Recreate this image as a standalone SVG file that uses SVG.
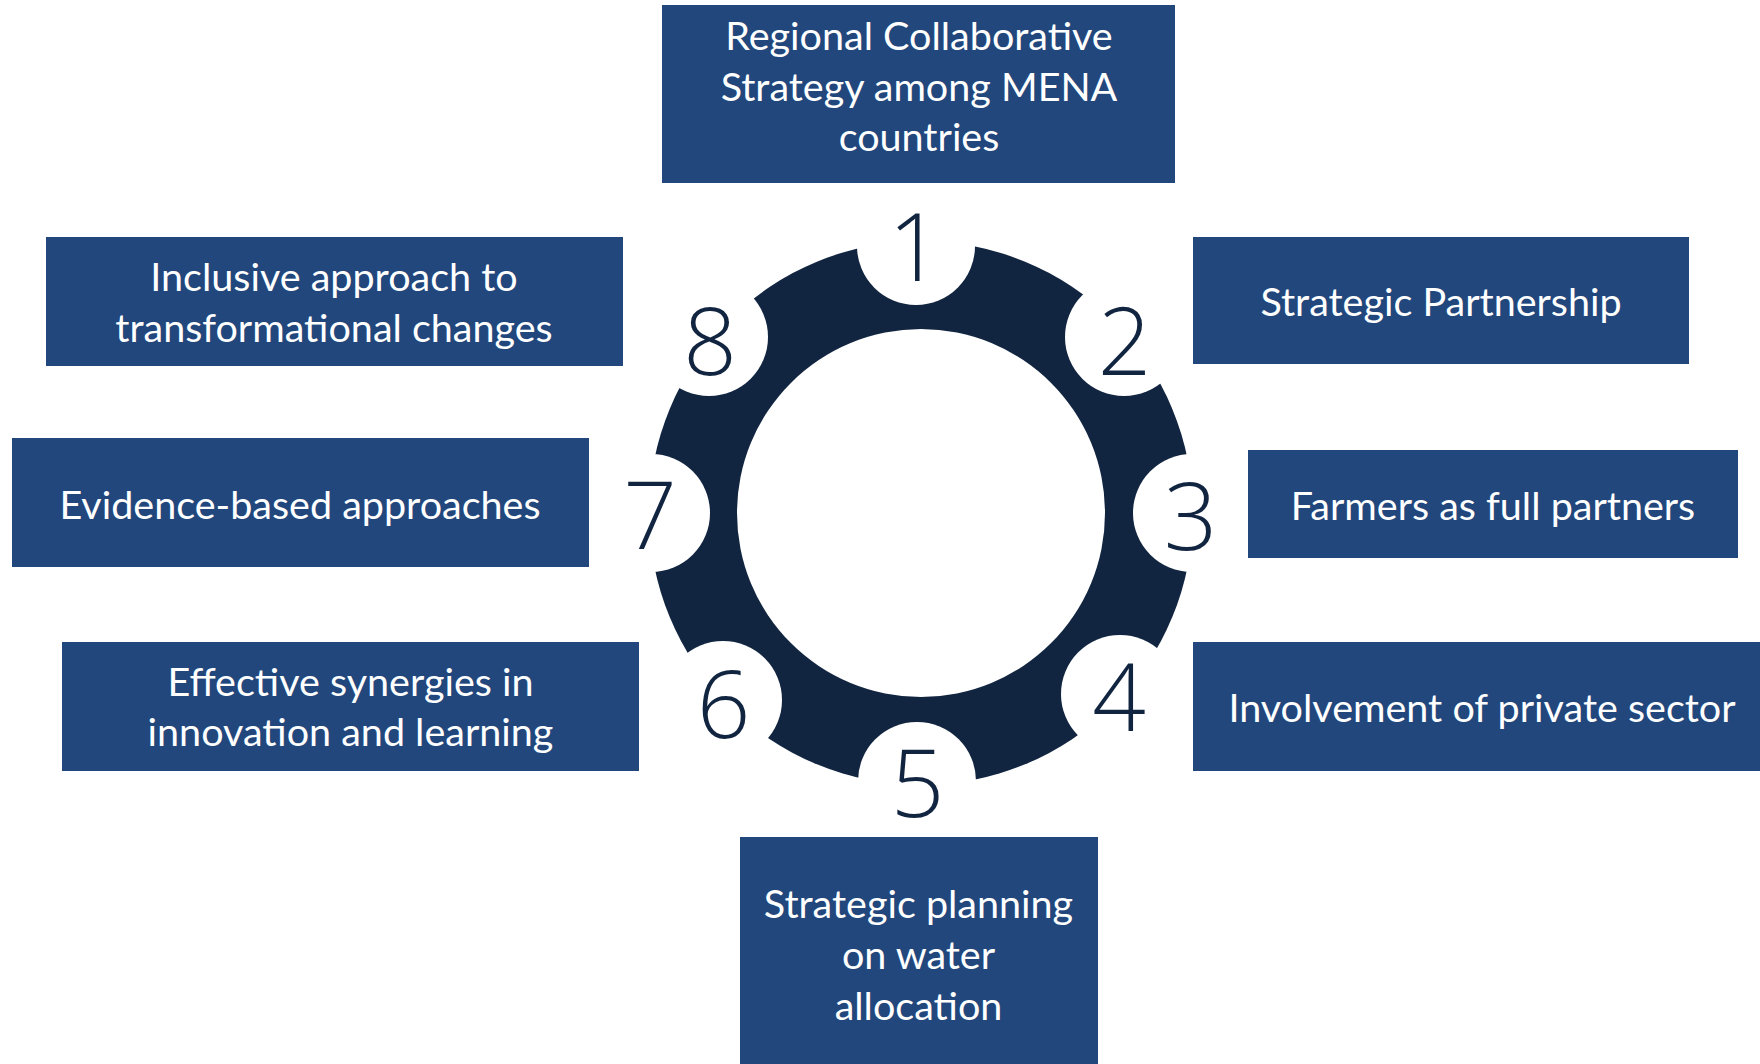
<svg xmlns="http://www.w3.org/2000/svg" width="1760" height="1064" viewBox="0 0 1760 1064">
  <style>
    .box { fill: #21477D; }
    .lbl { font-family: "Lato", "Open Sans", sans-serif; font-size: 39.5px; fill: #FFFFFF; text-anchor: middle; }
    .num { font-family: "Open Sans", "Noto Sans", sans-serif; font-weight: 300; font-size: 94px; fill: #122540; text-anchor: middle; }
  </style>
  <defs>
    <mask id="ringMask" maskUnits="userSpaceOnUse" x="0" y="0" width="1760" height="1064">
      <rect x="0" y="0" width="1760" height="1064" fill="#fff"/>
      <circle cx="921" cy="513" r="184" fill="#000"/>
      <circle cx="916" cy="246" r="59" fill="#000"/>
      <circle cx="1124" cy="337" r="59" fill="#000"/>
      <circle cx="1192" cy="513" r="59" fill="#000"/>
      <circle cx="1120" cy="694" r="59" fill="#000"/>
      <circle cx="917" cy="781" r="59" fill="#000"/>
      <circle cx="723" cy="700" r="59" fill="#000"/>
      <circle cx="651" cy="513" r="59" fill="#000"/>
      <circle cx="709" cy="337" r="59" fill="#000"/>
    </mask>
  </defs>
  <rect x="0" y="0" width="1760" height="1064" fill="#FFFFFF"/>
  <g id="ring">
    <circle cx="921" cy="513" r="272" fill="#122540" mask="url(#ringMask)"/>
  </g>
  <g id="node1">
    <rect class="box" x="662" y="5" width="513" height="178"/>
    <text class="lbl" x="919" y="50">Regional Collaborative</text>
    <text class="lbl" x="919" y="100.5">Strategy among MENA</text>
    <text class="lbl" x="919" y="151">countries</text>
    <text class="num" x="915" y="281">1</text>
  </g>
  <g id="node2">
    <rect class="box" x="1193" y="237" width="496" height="127"/>
    <text class="lbl" x="1441" y="316">Strategic Partnership</text>
    <text class="num" x="1124.5" y="375">2</text>
  </g>
  <g id="node3">
    <rect class="box" x="1248" y="450" width="490" height="108"/>
    <text class="lbl" x="1493" y="520">Farmers as full partners</text>
    <text class="num" x="1190.5" y="549.5">3</text>
  </g>
  <g id="node4">
    <rect class="box" x="1193" y="642" width="580" height="129"/>
    <text class="lbl" x="1482" y="722">Involvement of private sector</text>
    <text class="num" x="1119" y="731">4</text>
  </g>
  <g id="node5">
    <rect class="box" x="740" y="837" width="358" height="240"/>
    <text class="lbl" x="918.5" y="918">Strategic planning</text>
    <text class="lbl" x="918.5" y="968.5">on water</text>
    <text class="lbl" x="918.5" y="1019.5">allocation</text>
    <text class="num" x="917.5" y="817">5</text>
  </g>
  <g id="node6">
    <rect class="box" x="62" y="642" width="577" height="129"/>
    <text class="lbl" x="350.5" y="696">Effective synergies in</text>
    <text class="lbl" x="350.5" y="745.5">innovation and learning</text>
    <text class="num" x="723.5" y="738">6</text>
  </g>
  <g id="node7">
    <rect class="box" x="12" y="438" width="577" height="129"/>
    <text class="lbl" x="300" y="519">Evidence-based approaches</text>
    <text class="num" x="650" y="549">7</text>
  </g>
  <g id="node8">
    <rect class="box" x="46" y="237" width="577" height="129"/>
    <text class="lbl" x="334" y="291">Inclusive approach to</text>
    <text class="lbl" x="334" y="342">transformational changes</text>
    <text class="num" x="710" y="375">8</text>
  </g>
</svg>
